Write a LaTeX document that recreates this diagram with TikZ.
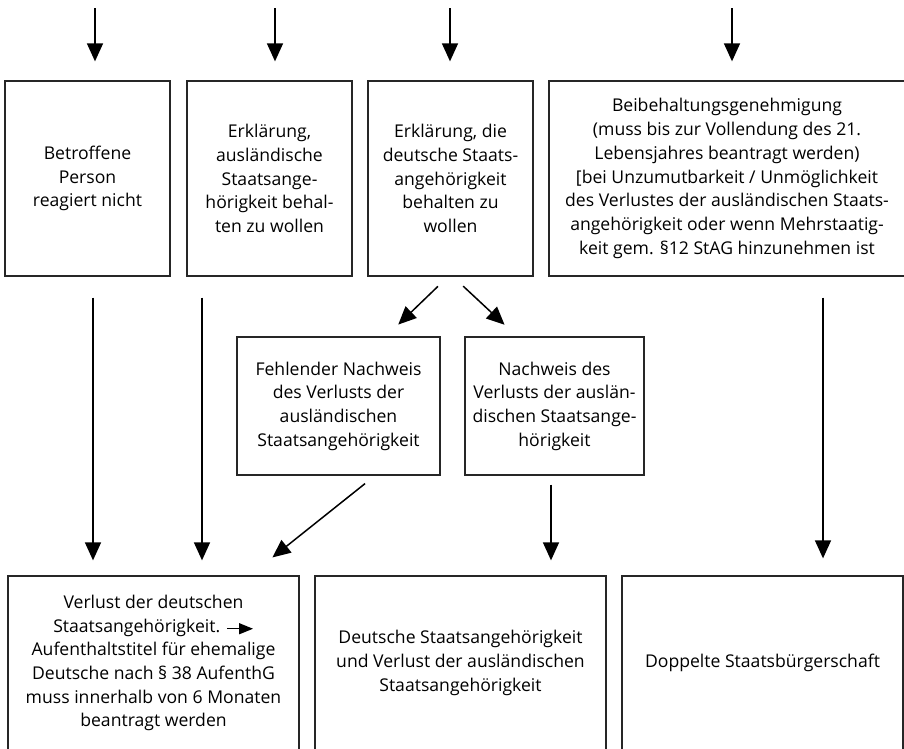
\documentclass[tikz,border=0pt]{standalone}
\usepackage{fontspec}
\setmainfont{Open Sans}
\usetikzlibrary{arrows.meta}
\begin{document}
\begin{tikzpicture}[x=1pt,y=-1pt,
  box/.style={draw=black!85,line width=1.3pt,rectangle,inner sep=0pt,align=center,
    font=\fontsize{17.6}{23.7}\selectfont},
  arr/.style={line width=1.5pt,-{Triangle[length=18pt,width=16pt]}},
]
\useasboundingbox (0,0) rectangle (904,748);
% top row
\node[box,minimum width=165pt,minimum height=195pt] (A) at (87.5,178.5) {Betroffene\\Person\\reagiert nicht};
\node[box,minimum width=165pt,minimum height=195pt] (B) at (269.5,178.5) {Erklärung,\\ausländische\\Staatsange-\\hörigkeit behal-\\ten zu wollen};
\node[box,minimum width=165pt,minimum height=195pt] (C) at (450.5,178.5) {Erklärung, die\\deutsche Staats-\\angehörigkeit\\behalten zu\\wollen};
\node[box,minimum width=356pt,minimum height=195pt] (D) at (727,178.5) {Beibehaltungsgenehmigung\\(muss bis zur Vollendung des 21.\\Lebensjahres beantragt werden)\\{[}bei Unzumutbarkeit / Unmöglichkeit\\des Verlustes der ausländischen Staats-\\angehörigkeit oder wenn Mehrstaatig-\\keit gem. §12 StAG hinzunehmen ist};
% middle row
\node[box,minimum width=203pt,minimum height=138pt] (M1) at (338.5,406) {Fehlender Nachweis\\des Verlusts der\\ausländischen\\Staatsangehörigkeit};
\node[box,minimum width=179pt,minimum height=138pt] (M2) at (554.5,406) {Nachweis des\\Verlusts der auslän-\\dischen Staatsange-\\hörigkeit};
% bottom row
\node[box,minimum width=291pt,minimum height=174pt] (E1) at (153.5,663) {Verlust der deutschen\\Staatsangehörigkeit. \tikz[baseline=-0.35ex]\draw[line width=1.4pt,-{Triangle[length=14pt,width=11pt]}] (0pt,0pt) -- (26pt,0pt);\\Aufenthaltstitel für ehemalige\\Deutsche nach § 38 AufenthG\\muss innerhalb von 6 Monaten\\beantragt werden};
\node[box,minimum width=291pt,minimum height=174pt] (E2) at (460.5,663) {Deutsche Staatsangehörigkeit\\und Verlust der ausländischen\\Staatsangehörigkeit};
\node[box,minimum width=281pt,minimum height=174pt] (E3) at (762.5,663) {Doppelte Staatsbürgerschaft};
% free ends of top arrows
\coordinate (ta) at (95,8);
\coordinate (tb) at (275,8);
\coordinate (tc) at (450,8);
\coordinate (td) at (732,8);
\draw[arr,shorten >=19pt] (ta) -- (ta |- A.north);
\draw[arr,shorten >=19pt] (tb) -- (tb |- B.north);
\draw[arr,shorten >=19pt] (tc) -- (tc |- C.north);
\draw[arr,shorten >=19pt] (td) -- (td |- D.north);
% x helpers
\coordinate (xa) at (93,0);
\coordinate (xb) at (202,0);
\coordinate (xd) at (823,0);
\coordinate (xm) at (551,0);
\coordinate (c1) at (448,0);
\coordinate (c2) at (386,0);
\coordinate (c3) at (453,0);
\coordinate (c4) at (517,0);
\coordinate (m1) at (375,0);
\coordinate (m2) at (250,0);
% vertical long arrows
\draw[arr,shorten <=21pt,shorten >=15pt] (A.south -| xa) -- (E1.north -| xa);
\draw[arr,shorten <=21pt,shorten >=15pt] (B.south -| xb) -- (E1.north -| xb);
\draw[arr,shorten <=21pt,shorten >=17pt] (D.south -| xd) -- (E3.north -| xd);
\draw[arr,shorten <=9pt,shorten >=15pt] (M2.south -| xm) -- (E2.north -| xm);
% diagonals
\draw[arr,shorten <=14pt,shorten >=17pt] (C.south -| c1) -- (M1.north -| c2);
\draw[arr,shorten <=14pt,shorten >=17pt] (C.south -| c3) -- (M2.north -| c4);
\draw[arr,shorten <=12.7pt,shorten >=28.7pt] (M1.south -| m1) -- (E1.north -| m2);
\end{tikzpicture}
\end{document}
